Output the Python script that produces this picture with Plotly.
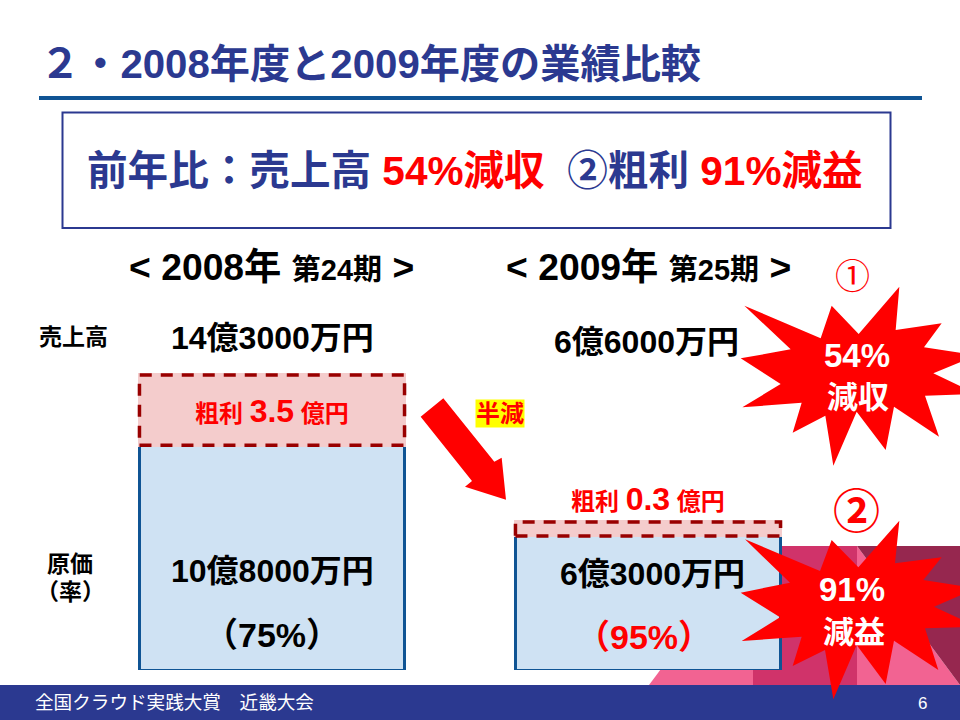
import plotly.graph_objects as go

# ---- data ----
periods = ["2008年 第24期", "2009年 第25期"]
cost_drawn = [10.9, 6.5]      # drawn bar heights, 億円 scale
profit_drawn = [3.4, 0.68]
sales_labels = ["14億3000万円", "6億6000万円"]
cost_labels = ["10億8000万円", "6億3000万円"]
rate_labels = ["（75%）", "（95%）"]
profit_labels = ["3.5", "0.3"]

NAVY = "#2B3990"
BLUE = "#0F5494"
RED = "#FF0000"
DARKRED = "#990000"
FONT = "Liberation Sans, Noto Sans CJK JP, sans-serif"
W, H = 960, 720
BAR_W = 0.705


def px(x):
    return x / W


def py(y):
    return 1 - y / H


def poly(points, fill, layer="above"):
    d = "M " + " L ".join(f"{px(x):.5f},{py(y):.5f}" for x, y in points) + " Z"
    return dict(type="path", path=d, xref="paper", yref="paper", fillcolor=fill,
                line=dict(width=0), layer=layer)


def rect(x0, y0, x1, y1, fill="rgba(0,0,0,0)", lc=None, lw=0, layer="below"):
    return dict(type="rect", xref="paper", yref="paper", x0=px(x0), x1=px(x1), y0=py(y0), y1=py(y1),
                fillcolor=fill, line=dict(color=lc or fill, width=lw), layer=layer)


def zoom_pts(pts, ox, oy):
    return [(ox + a / 3, oy + b / 3) for a, b in pts]


star1 = zoom_pts([(538, 110), (527, 240), (665, 220), (612, 292), (770, 316), (640, 370), (770, 432),
                  (615, 437), (657, 560), (522, 470), (497, 600), (410, 485), (340, 647), (316, 497),
                  (218, 548), (245, 458), (67, 472), (182, 402), (62, 325), (212, 298), (73, 167),
                  (302, 265), (335, 167), (416, 252)], 720, 250)
star2 = zoom_pts([(778, 122), (765, 250), (905, 232), (850, 300), (1010, 325), (882, 380), (1010, 440),
                  (855, 445), (895, 570), (762, 482), (737, 612), (650, 495), (580, 658), (555, 510),
                  (458, 558), (485, 470), (305, 483), (420, 412), (302, 338), (450, 308), (315, 178),
                  (540, 273), (575, 180), (655, 262)], 640, 480)
arrow = zoom_pts([(100, 25), (253, 215), (275, 203), (288, 329), (165, 290), (186, 273), (32, 80)], 410, 390)

shapes = [
    poly([(649, 685), (753, 546), (753, 685)], "#F26392", "below"),
    poly([(753, 546), (857, 546), (857, 685), (753, 685)], "#D0336A", "below"),
    poly([(857, 546), (960, 685), (857, 685)], "#F26392", "below"),
    poly([(857, 546), (960, 546), (960, 685)], "#96274F", "below"),
    rect(0, 685, 960, 720, NAVY),
    rect(39, 96, 922, 100, BLUE),
    rect(62.5, 112.5, 890.5, 228, "#FFFFFF", NAVY, 2),
]
for i in range(2):
    shapes.append(dict(type="rect", xref="x", yref="y", x0=i - BAR_W / 2, x1=i + BAR_W / 2,
                       y0=cost_drawn[i], y1=cost_drawn[i] + profit_drawn[i],
                       line=dict(color=DARKRED, width=3.5, dash="12px,9px"), layer="above"))
shapes += [poly(arrow, RED), poly(star1, RED), poly(star2, RED)]


def tx(x, y, text, size, color="#000000", anchor="center", bold=True, **kw):
    return dict(xref="paper", yref="paper", x=px(x), y=py(y), text=f"<b>{text}</b>" if bold else text,
                showarrow=False, xanchor=anchor, yanchor="middle", borderpad=0,
                font=dict(family=FONT, size=size, color=color), **kw)


def red(s, size=None):
    sz = f"font-size:{size}px;" if size else ""
    return f'<span style="color:{RED};{sz}">{s}</span>'


def head(year, term):
    return f'&lt; {year}年 <span style="font-size:29px">{term}</span> &gt;'


def profit(v):
    return f'粗利 <span style="font-size:32px">{v}</span> 億円'


ann = [
    tx(39, 64, "２・2008年度と2009年度の業績比較", 40.2, NAVY, "left"),
    tx(86, 171, f"前年比：売上高 {red('54%減収')}  ②粗利 {red('91%減益')}", 40.6, NAVY, "left"),
    tx(271, 267, head("2008", "第24期"), 37.3),
    tx(648, 267, head("2009", "第25期"), 37.3),
    tx(73, 337, "売上高", 23),
    tx(70, 564, "原価", 23),
    tx(70, 592, "（率）", 23),
    tx(272, 338, sales_labels[0], 32),
    tx(646, 342, sales_labels[1], 32),
    tx(272, 411, profit(profit_labels[0]), 24, RED),
    tx(648, 499, profit(profit_labels[1]), 24, RED),
    tx(500, 413, "半減", 24, RED, bgcolor="#FFFF00"),
    tx(272, 571, cost_labels[0], 32),
    tx(652, 574, cost_labels[1], 32),
    tx(272, 635, rate_labels[0], 34),
    tx(644, 637, rate_labels[1], 34, RED),
    tx(852, 276, "①", 35, RED, bold=False),
    tx(856, 511, "②", 47, RED),
    tx(857, 355, "54%", 33, "#FFFFFF"),
    tx(858, 397, "減収", 31, "#FFFFFF"),
    tx(852, 589, "91%", 33, "#FFFFFF"),
    tx(854, 632, "減益", 31, "#FFFFFF"),
    tx(34, 702, "全国クラウド実践大賞　近畿大会", 18.6, "#FFFFFF", "left", bold=False),
    tx(922, 703, "6", 17, "#FFFFFF", bold=False),
]

fig = go.Figure()
fig.add_bar(x=periods, y=cost_drawn, width=BAR_W, cliponaxis=False,
            marker=dict(color="#CFE2F3", line=dict(color=BLUE, width=3)), hoverinfo="skip")
fig.add_bar(x=periods, y=profit_drawn, width=BAR_W, cliponaxis=False,
            marker=dict(color="#F4CCCC", line=dict(color="#F4CCCC", width=3)), hoverinfo="skip")
fig.update_layout(
    barmode="stack", width=W, height=H, autosize=False, showlegend=False,
    margin=dict(l=0, r=0, t=0, b=0), paper_bgcolor="#FFFFFF", plot_bgcolor="rgba(0,0,0,0)",
    xaxis=dict(domain=[px(84), px(836)], range=[-0.5, 1.5], type="category", visible=False,
               categoryorder="array", categoryarray=periods),
    yaxis=dict(domain=[py(670), py(350)], range=[0, 320 / 20.63], visible=False),
    shapes=shapes, annotations=ann,
)
fig.write_html("out.html", post_script="document.body.style.margin='0';",
               config=dict(displayModeBar=False))
